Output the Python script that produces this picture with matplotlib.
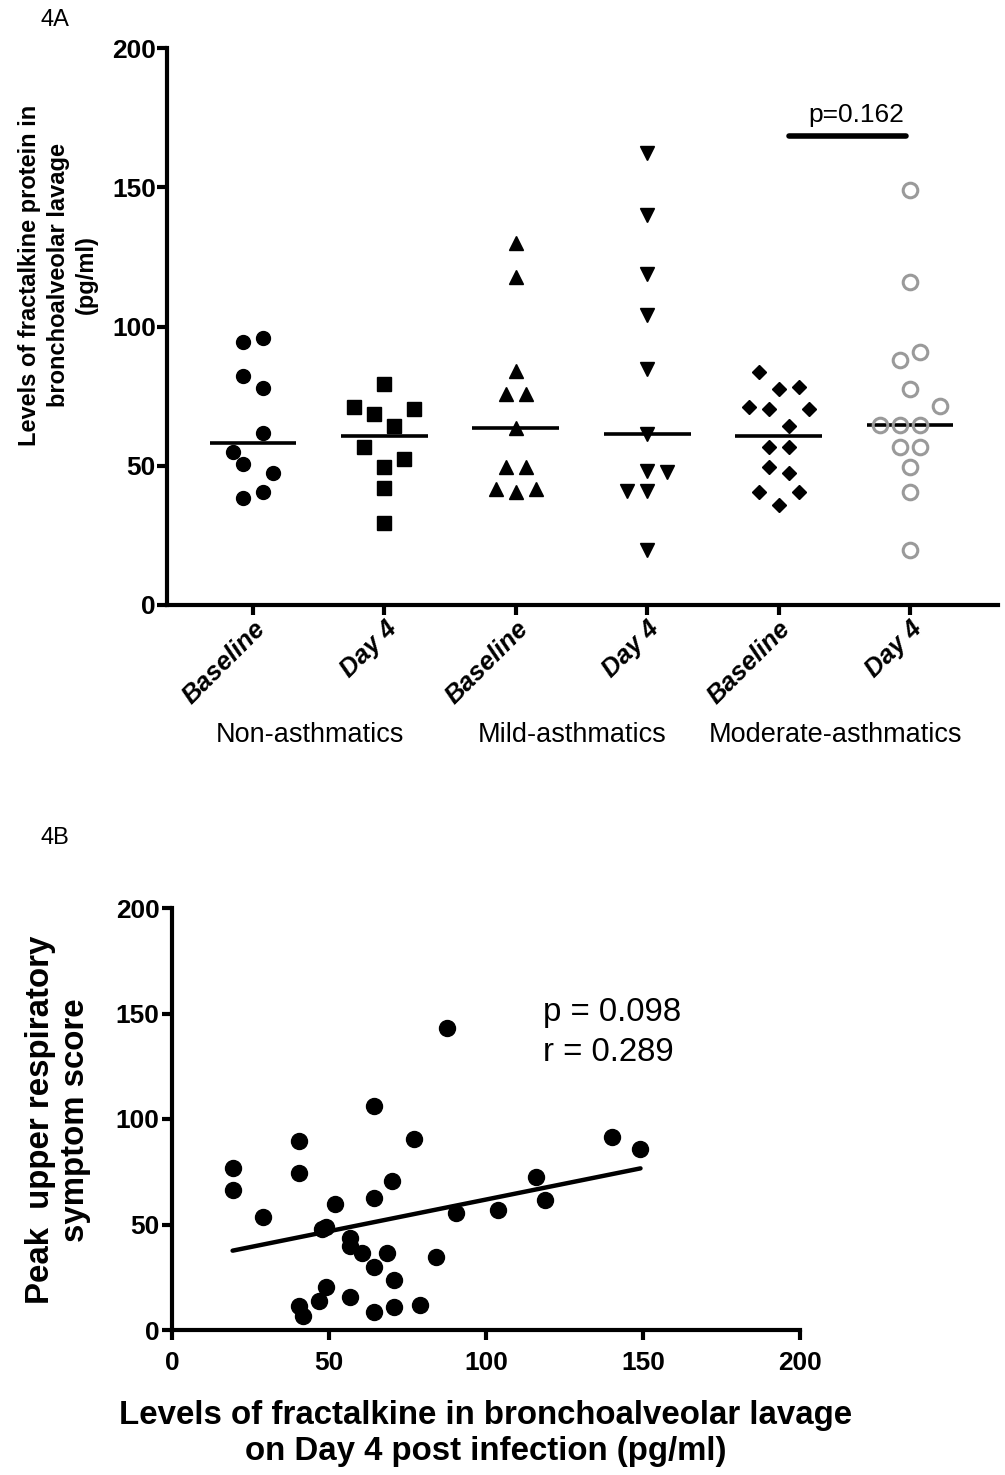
import matplotlib
matplotlib.use('Agg')
import matplotlib.pyplot as plt
import matplotlib.font_manager as fm
import matplotlib.transforms as mtransforms
import numpy as np

# ---- data, panel 4A (pg/ml) and jitter columns (in marker steps) ----
tick_labels = ['Baseline', 'Day 4', 'Baseline', 'Day 4', 'Baseline', 'Day 4']
group_names = ['Non-asthmatics', 'Mild-asthmatics', 'Moderate-asthmatics']
yticks_a = [0, 50, 100, 150, 200]

non_base = [94.5, 95.8, 82.3, 78.0, 61.8, 54.8, 50.6, 47.3, 40.7, 38.3]
non_base_col = [-0.5, 0.5, -0.5, 0.5, 0.5, -1, -0.5, 1, 0.5, -0.5]

non_day4 = [79.4, 71.2, 68.6, 70.4, 64.4, 56.8, 52.3, 49.7, 42.1, 29.3]
non_day4_col = [0, -1.5, -0.5, 1.5, 0.5, -1, 1, 0, 0, 0]

mild_base = [130.1, 117.7, 84.1, 75.6, 75.6, 63.7, 49.4, 49.4, 41.6, 40.5, 41.6]
mild_base_col = [0, 0, 0, -0.5, 0.5, 0, -0.5, 0.5, -1, 0, 1]

mild_day4 = [162.2, 140.0, 118.9, 104.1, 84.6, 61.3, 48.2, 47.9, 41.0, 41.0, 19.7]
mild_day4_col = [0, 0, 0, 0, 0, 0, 0, 1, -1, 0, 0]

mod_base = [83.5, 77.6, 78.4, 71.2, 70.3, 70.4, 64.4, 56.8, 56.8, 49.4, 47.3, 40.7, 40.7, 35.9]
mod_base_col = [-1, 0, 1, -1.5, -0.5, 1.5, 0.5, -0.5, 0.5, -0.5, 0.5, -1, 1, 0]

mod_day4 = [149.0, 115.9, 90.7, 88.0, 77.6, 71.6, 64.6, 64.6, 64.6, 56.8, 56.8, 49.7, 40.7, 19.7]
mod_day4_col = [0, 0, 0.5, -0.5, 0, 1.5, -1.5, -0.5, 0.5, -0.5, 0.5, 0, 0, 0]

p_text_a = 'p=0.162'
p_bar_y = 168.4

# ---- data, panel 4B ----
ticks_b = [0, 50, 100, 150, 200]
frac_day4 = [87.5, 64.2, 40.3, 77.2, 140.0, 149.2, 19.3, 40.3, 19.3, 70.1, 115.9, 64.2,
             118.8, 52.0, 28.9, 90.5, 103.9, 48.9, 47.7, 56.6, 56.6, 60.6, 68.4, 84.0,
             64.2, 70.8, 49.2, 46.8, 56.6, 40.3, 41.7, 64.2, 70.8, 79.1]
symptom = [143.2, 106.3, 89.4, 90.5, 91.6, 85.6, 76.6, 74.5, 66.3, 70.6, 72.6, 62.7,
           61.6, 59.7, 53.7, 55.6, 56.8, 48.9, 47.7, 43.4, 39.8, 36.6, 36.6, 34.7,
           29.7, 23.7, 20.2, 13.7, 15.8, 11.4, 6.8, 8.7, 11.1, 11.8]
fit_x = [19.3, 149.2]
fit_y = [37.6, 76.6]
stats_text = 'p = 0.098\nr = 0.289'

# ---- fonts ----
names = {f.name for f in fm.fontManager.ttflist}
if 'Liberation Sans Narrow' in names:
    narrow = 'Liberation Sans Narrow'
    k = 1.0
else:
    narrow = 'Liberation Sans'
    k = 0.82
plt.rcParams['font.family'] = ['Liberation Sans', 'DejaVu Sans']

fig = plt.figure(figsize=(10.05, 14.75), dpi=100)

# ================= 4A =================
ax = fig.add_axes([167 / 1005, 1 - 605 / 1475, 831 / 1005, 557 / 1475])
step = 0.152
half = 0.33

groups = [
    (non_base, non_base_col, dict(marker='o', ms=10, mfc='black', mec='black')),
    (non_day4, non_day4_col, dict(marker='s', ms=9.4, mfc='black', mec='black')),
    (mild_base, mild_base_col, dict(marker='^', ms=10.5, mfc='black', mec='black')),
    (mild_day4, mild_day4_col, dict(marker='v', ms=10.5, mfc='black', mec='black')),
    (mod_base, mod_base_col, dict(marker='D', ms=7.4, mfc='black', mec='black')),
    (mod_day4, mod_day4_col, dict(marker='o', ms=10.5, mfc='none', mec='#9a9a9a', mew=2.2)),
]

for i, (vals, cols, style) in enumerate(groups):
    med = np.median(vals)
    ax.plot([i - half, i + half], [med, med], color='black', lw=2.6, zorder=2,
            solid_capstyle='butt')
    xs = i + np.array(cols) * step
    ax.plot(xs, vals, ls='none', zorder=3, clip_on=False, **style)

ax.plot([4.08, 4.97], [p_bar_y, p_bar_y], color='black', lw=4, solid_capstyle='round')
ax.text(4.59, 171.5, p_text_a, ha='center', va='bottom', fontsize=19)

ax.set_xlim(-0.654, 5.67)
ax.set_ylim(0, 200)
ax.set_yticks(yticks_a, labels=[str(t) for t in yticks_a], fontsize=19, fontweight='bold')
ax.set_xticks(range(6), labels=tick_labels, rotation=45, ha='right', rotation_mode='anchor',
              fontsize=18.5, fontweight='bold', fontstyle='italic')
for s in ['top', 'right']:
    ax.spines[s].set_visible(False)
for s in ['left', 'bottom']:
    ax.spines[s].set_linewidth(3)
ax.tick_params(width=3, length=7, pad=1)

trans = mtransforms.blended_transform_factory(ax.transData, fig.transFigure)
for j, name in enumerate(group_names):
    ax.text(2 * j + 0.43, 1 - 735 / 1475, name, transform=trans, ha='center', va='center',
            fontsize=19.5)

fig.text(58 / 1005, 1 - 275 / 1475,
         'Levels of fractalkine protein in\nbronchoalveolar lavage\n(pg/ml)',
         rotation=90, ha='center', va='center', fontsize=17, fontweight='bold',
         linespacing=1.3)
fig.text(40 / 1005, 1 - 20 / 1475, '4A', ha='left', va='center', fontsize=17)

# ================= 4B =================
bx = fig.add_axes([172 / 1005, 1 - 1330 / 1475, 628 / 1005, 422 / 1475])
bx.plot(frac_day4, symptom, 'o', color='black', ms=11.5, clip_on=False, zorder=3)
bx.plot(fit_x, fit_y, color='black', lw=3.2, solid_capstyle='round', zorder=2)
bx.text(118, 141, stats_text, ha='left', va='center', fontsize=29 * k, family=narrow,
        linespacing=1.35)

bx.set_xlim(0, 200)
bx.set_ylim(0, 200)
bx.set_xticks(ticks_b, labels=[str(t) for t in ticks_b], fontsize=23 * k,
              fontweight='bold', family=narrow)
bx.set_yticks(ticks_b, labels=[str(t) for t in ticks_b], fontsize=23 * k,
              fontweight='bold', family=narrow)
for s in ['top', 'right']:
    bx.spines[s].set_visible(False)
for s in ['left', 'bottom']:
    bx.spines[s].set_linewidth(3)
bx.tick_params(width=3, length=7)
bx.tick_params(axis='x', pad=8)
bx.tick_params(axis='y', pad=2)

bx.set_xlabel('Levels of fractalkine in bronchoalveolar lavage\non Day 4 post infection (pg/ml)',
              fontsize=29 * k, fontweight='bold', family=narrow, labelpad=18,
              linespacing=1.2)
fig.text(58 / 1005, 1 - 1120 / 1475, 'Peak  upper respiratory\nsymptom score',
         rotation=90, ha='center', va='center', fontsize=29 * k, fontweight='bold',
         family=narrow, linespacing=1.2)
fig.text(40 / 1005, 1 - 838 / 1475, '4B', ha='left', va='center', fontsize=17)

fig.savefig('out.png', dpi=100)
